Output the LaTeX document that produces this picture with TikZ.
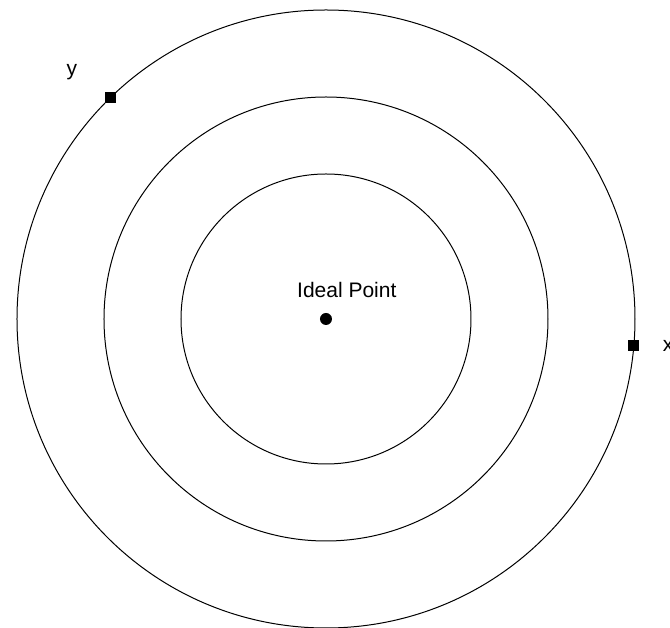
\documentclass[tikz,border=0pt]{standalone}
\usepackage{fontspec}
\setmainfont{Liberation Sans}
\usepackage{tikz}
\usetikzlibrary{positioning, calc}

\begin{document}
\begin{tikzpicture}[
	x=1pt, y=1pt,
	ring/.style={draw=black, line width=1pt},
	marker/.style={rectangle, fill=black, inner sep=0pt, minimum size=11pt},
	ideal/.style={circle, fill=black, inner sep=0pt, minimum size=12pt},
	lbl/.style={font=\fontsize{21}{25}\selectfont, inner sep=0pt}
]
\useasboundingbox (-326,-309) rectangle (344,319);

% Ideal point and rings
\node[ideal] (IP) at (0,0) {};
\node[lbl, above right=21pt and -29pt of IP.center] (IPlabel) {Ideal Point};

\draw[ring] (IP.center) circle (145);
\draw[ring] (IP.center) circle (222);
\draw[ring] (IP.center) circle (309);

% Points on the outer ring
\node[marker] (Y) at (134.2:309) {};
\node[marker] (X) at (-5:309) {};

% Axis labels
\node[lbl] (Ylabel) at (-254,247) {y};
\node[lbl] (Xlabel) at (342,-27) {x};

\end{tikzpicture}
\end{document}
